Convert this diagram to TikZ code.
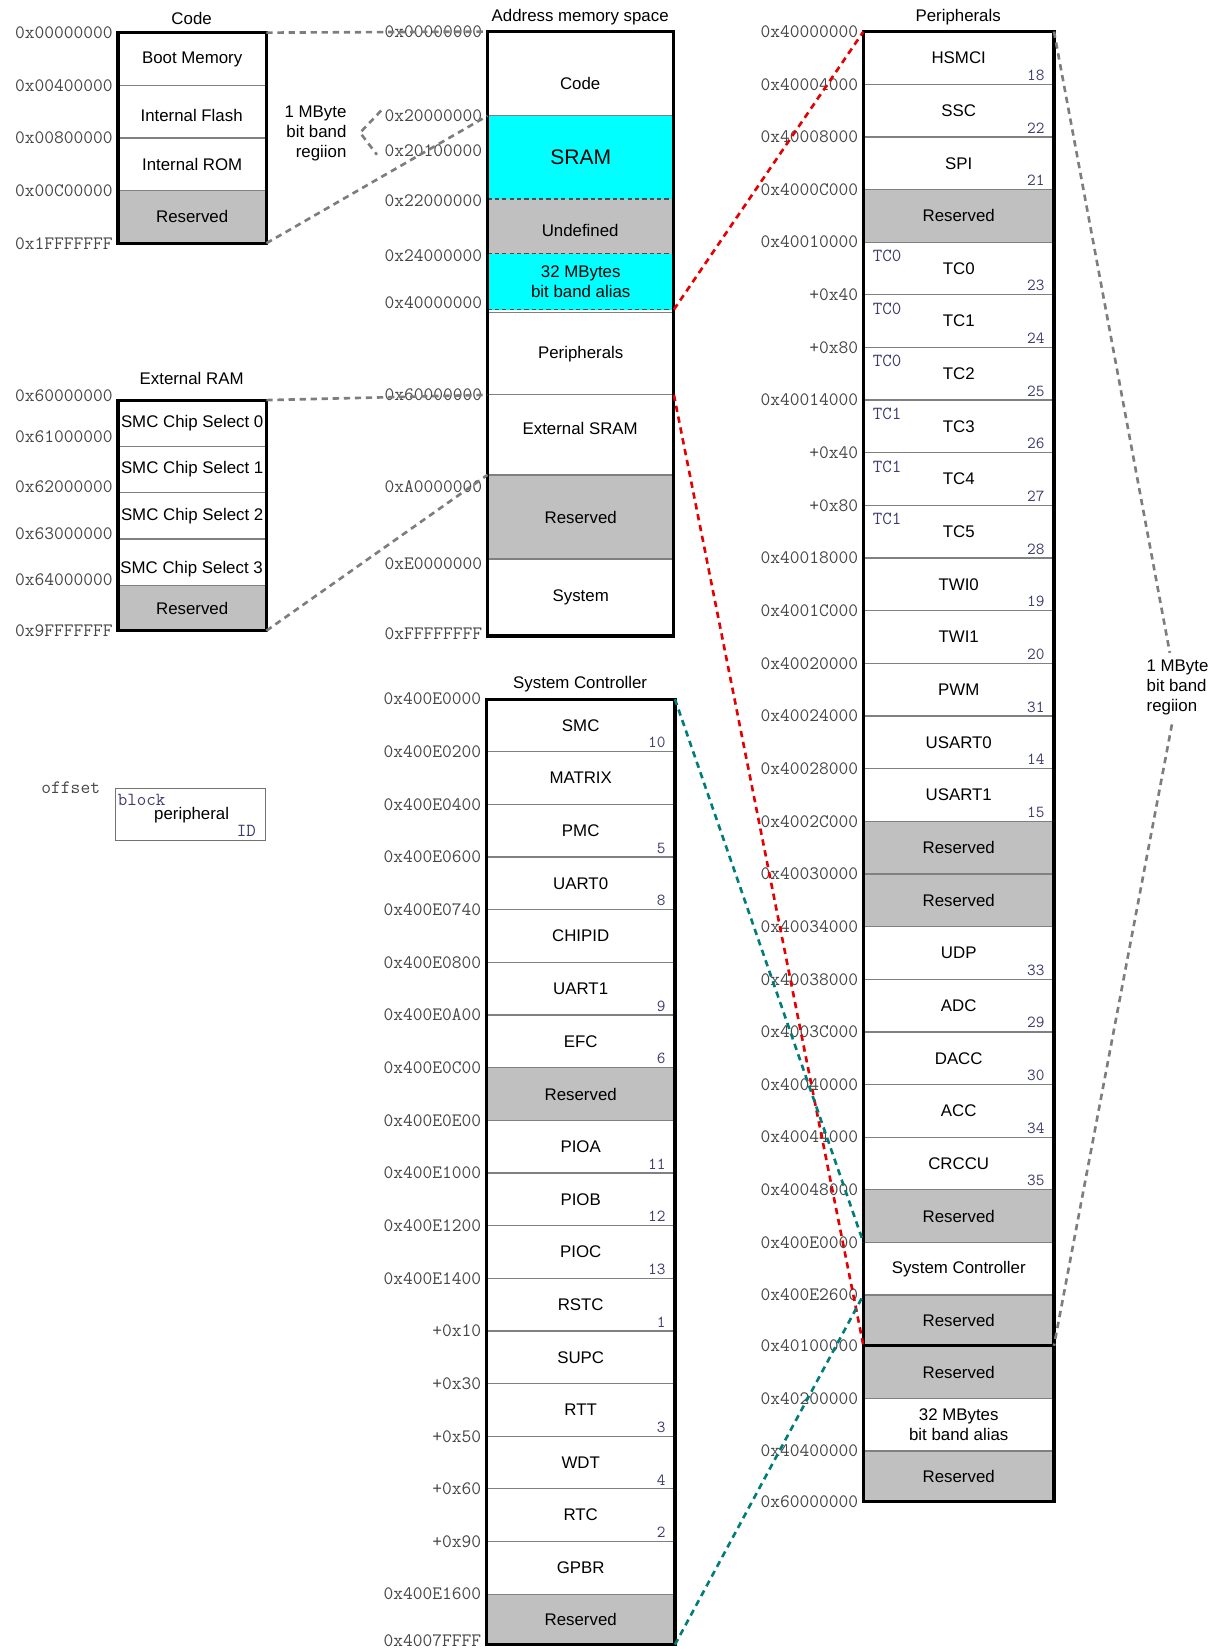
\documentclass[tikz,border=0pt]{standalone}
\usepackage{fontspec}
\setmainfont{Liberation Sans}
\usepackage{tikz}
\usetikzlibrary{calc,shapes,backgrounds,positioning}
\definecolor{grayres}{RGB}{192,192,192}
\definecolor{cyanmem}{RGB}{0,255,255}
\definecolor{hexgray}{RGB}{70,70,70}
\definecolor{idgray}{RGB}{60,60,110}
\definecolor{redlink}{RGB}{228,0,0}
\definecolor{teallink}{RGB}{0,125,120}
\definecolor{graylink}{RGB}{125,125,125}

\begin{document}
\begin{tikzpicture}[x=1pt,y=-1pt]

  \tikzstyle{every node}=[font=\fontsize{16}{19}\selectfont, inner sep=0pt, outer sep=0pt]
  \tikzstyle{seg}=[draw=black!50, line width=1.2pt, anchor=north west, align=center]
  \tikzstyle{rsv}=[seg, fill=grayres]
  \tikzstyle{hex}=[font=\fontsize{18}{20}\selectfont\ttfamily, text=hexgray, anchor=east, xshift=-5pt]
  \tikzstyle{pid}=[font=\fontsize{16}{18}\selectfont\ttfamily, text=idgray, anchor=south east, xshift=-9pt, yshift=3.5pt]
  \tikzstyle{blk}=[font=\fontsize{17.5}{20}\selectfont\ttfamily, text=idgray, anchor=north west, xshift=9pt, yshift=-7.5pt]
  \tikzstyle{box}=[draw, line width=3pt]
  \tikzstyle{sepdash}=[draw=black!70, line width=1.2pt, dash pattern=on 4pt off 3pt]
  \tikzstyle{link}=[line width=2.5pt, dash pattern=on 6pt off 4.5pt]

  \useasboundingbox (0,0) rectangle (1158,1568);

  % Code
  \node (tC) at (182,18) {Code};
  \node[seg, minimum width=141pt, minimum height=50pt] (C1) at (112,31) {Boot Memory};
  \node[seg, minimum width=141pt, minimum height=50pt] (C2) at (112,81) {};
  \node (C2t) at (182,110) {Internal Flash};
  \node[seg, minimum width=141pt, minimum height=50pt] (C3) at (112,131) {Internal ROM};
  \node[rsv, minimum width=141pt, minimum height=50pt] (C4) at (112,181) {Reserved};
  \draw[box] (C1.north west) rectangle (C4.south east);
  \node[hex] (aC1) at (C1.north west) {0x00000000};
  \node[hex] (aC2) at (C2.north west) {0x00400000};
  \node[hex] (aC3) at (C3.north west) {0x00800000};
  \node[hex] (aC4) at (C4.north west) {0x00C00000};
  \node[hex] (aC5) at (C4.south west) {0x1FFFFFFF};

  \node[align=right, anchor=east] (bbL) at (329,127) {1 MByte\\bit band\\regiion};
  \coordinate (bL1) at (362,105);
  \coordinate (bL2) at (342,126);
  \coordinate (bL3) at (358,147);

  % External RAM
  \node (tR) at (182,359) {External RAM};
  \node[seg, minimum width=141pt, minimum height=44pt] (R1) at (112,380) {SMC Chip Select 0};
  \node[seg, minimum width=141pt, minimum height=44pt] (R2) at (112,424) {SMC Chip Select 1};
  \node[seg, minimum width=141pt, minimum height=44pt] (R3) at (112,468) {SMC Chip Select 2};
  \node[seg, minimum width=141pt, minimum height=44pt] (R4) at (112,512) {};
  \node (R4t) at (182,541) {SMC Chip Select 3};
  \node[rsv, minimum width=141pt, minimum height=43pt] (R5) at (112,556) {Reserved};
  \draw[box] (R1.north west) rectangle (R5.south east);
  \node[hex] (aR1) at (112,376) {0x60000000};
  \node[hex] (aR2) at (112,415) {0x61000000};
  \node[hex] (aR3) at (112,462) {0x62000000};
  \node[hex] (aR4) at (112,507) {0x63000000};
  \node[hex] (aR5) at (112,551) {0x64000000};
  \node[hex] (aR6) at (112,599) {0x9FFFFFFF};

  % legend
  \node[draw=black!55, line width=1pt, anchor=north west, minimum width=142pt, minimum height=49pt] (L) at (110,749) {};
  \node[hex, xshift=0pt] (Loff) at (100,748) {offset};
  \node[font=\fontsize{17.5}{20}\selectfont\ttfamily, text=idgray, anchor=west] (Lblk) at (112,760) {block};
  \node (Lper) at (182,774) {peripheral};
  \node[font=\fontsize{17.5}{20}\selectfont\ttfamily, text=idgray, anchor=east] (Lid) at (243,789) {ID};

  % Address memory space
  \node (tM) at (551,16) {Address memory space};
  \node[seg, minimum width=177pt, minimum height=80pt] (M1) at (463,30) {};
  \node (M1t) at (551,79) {Code};
  \node[anchor=north west, fill=cyanmem, minimum width=177pt, minimum height=79pt, font=\fontsize{20}{24}\selectfont] (M2) at (463,110) {SRAM};
  \node[anchor=north west, fill=grayres, minimum width=177pt, minimum height=52pt] (M3) at (463,189) {};
  \node (M3t) at (551,219) {Undefined};
  \node[anchor=north west, fill=cyanmem, minimum width=177pt, minimum height=53pt, align=center] (M4) at (463,241) {32 MBytes\\bit band alias};
  \node[seg, minimum width=177pt, minimum height=78pt] (M5) at (463,297) {Peripherals};
  \node[seg, minimum width=177pt, minimum height=76pt] (M6) at (463,375) {};
  \node (M6t) at (551,407) {External SRAM};
  \node[rsv, minimum width=177pt, minimum height=80pt] (M7) at (463,451) {Reserved};
  \node[seg, minimum width=177pt, minimum height=73pt] (M8) at (463,531) {System};
  \draw[sepdash] (M3.north west) -- (M3.north east);
  \draw[sepdash] (M4.north west) -- (M4.north east);
  \draw[sepdash] (M4.south west) -- (M4.south east);
  \draw[box] (M1.north west) rectangle (M8.south east);
  \node[hex] (aM1) at (M1.north west) {0x00000000};
  \node[hex] (aM2) at (M2.north west) {0x20000000};
  \node[hex] (aM3) at (463,143) {0x20100000};
  \node[hex] (aM4) at (463,191) {0x22000000};
  \node[hex] (aM5) at (463,243) {0x24000000};
  \node[hex] (aM6) at (463,287) {0x40000000};
  \node[hex] (aM7) at (M6.north west) {0x60000000};
  \node[hex] (aM8) at (463,462) {0xA0000000};
  \node[hex] (aM9) at (463,535) {0xE0000000};
  \node[hex] (aM10) at (463,602) {0xFFFFFFFF};

  % System Controller
  \node (tS) at (551,650) {System Controller};
  \node[seg, minimum width=179pt, minimum height=50pt] (S1) at (462,664) {SMC};
  \node[seg, minimum width=179pt, minimum height=50pt] (S2) at (462,714) {MATRIX};
  \node[seg, minimum width=179pt, minimum height=50pt] (S3) at (462,764) {PMC};
  \node[seg, minimum width=179pt, minimum height=50pt] (S4) at (462,814) {UART0};
  \node[seg, minimum width=179pt, minimum height=50pt] (S5) at (462,864) {CHIPID};
  \node[seg, minimum width=179pt, minimum height=50pt] (S6) at (462,914) {UART1};
  \node[seg, minimum width=179pt, minimum height=50pt] (S7) at (462,964) {EFC};
  \node[rsv, minimum width=179pt, minimum height=50pt] (S8) at (462,1014) {Reserved};
  \node[seg, minimum width=179pt, minimum height=50pt] (S9) at (462,1064) {PIOA};
  \node[seg, minimum width=179pt, minimum height=50pt] (S10) at (462,1114) {PIOB};
  \node[seg, minimum width=179pt, minimum height=50pt] (S11) at (462,1164) {PIOC};
  \node[seg, minimum width=179pt, minimum height=50pt] (S12) at (462,1214) {RSTC};
  \node[seg, minimum width=179pt, minimum height=50pt] (S13) at (462,1264) {SUPC};
  \node[seg, minimum width=179pt, minimum height=50pt] (S14) at (462,1314) {RTT};
  \node[seg, minimum width=179pt, minimum height=50pt] (S15) at (462,1364) {WDT};
  \node[seg, minimum width=179pt, minimum height=50pt] (S16) at (462,1414) {RTC};
  \node[seg, minimum width=179pt, minimum height=50pt] (S17) at (462,1464) {GPBR};
  \node[rsv, minimum width=179pt, minimum height=48pt] (S18) at (462,1514) {Reserved};
  \draw[box] (S1.north west) rectangle (S18.south east);
  \node[pid] (S1id) at (S1.south east) {10};
  \node[pid] (S3id) at (S3.south east) {5};
  \node[pid] (S4id) at (S4.south east) {8};
  \node[pid] (S6id) at (S6.south east) {9};
  \node[pid] (S7id) at (S7.south east) {6};
  \node[pid] (S9id) at (S9.south east) {11};
  \node[pid] (S10id) at (S10.south east) {12};
  \node[pid] (S11id) at (S11.south east) {13};
  \node[pid] (S12id) at (S12.south east) {1};
  \node[pid] (S14id) at (S14.south east) {3};
  \node[pid] (S15id) at (S15.south east) {4};
  \node[pid] (S16id) at (S16.south east) {2};
  \node[hex] (aS1) at (S1.north west) {0x400E0000};
  \node[hex] (aS2) at (S2.north west) {0x400E0200};
  \node[hex] (aS3) at (S3.north west) {0x400E0400};
  \node[hex] (aS4) at (S4.north west) {0x400E0600};
  \node[hex] (aS5) at (S5.north west) {0x400E0740};
  \node[hex] (aS6) at (S6.north west) {0x400E0800};
  \node[hex] (aS7) at (S7.north west) {0x400E0A00};
  \node[hex] (aS8) at (S8.north west) {0x400E0C00};
  \node[hex] (aS9) at (S9.north west) {0x400E0E00};
  \node[hex] (aS10) at (S10.north west) {0x400E1000};
  \node[hex] (aS11) at (S11.north west) {0x400E1200};
  \node[hex] (aS12) at (S12.north west) {0x400E1400};
  \node[hex] (aS13) at (S13.north west) {+0x10};
  \node[hex] (aS14) at (S14.north west) {+0x30};
  \node[hex] (aS15) at (S15.north west) {+0x50};
  \node[hex] (aS16) at (S16.north west) {+0x60};
  \node[hex] (aS17) at (S17.north west) {+0x90};
  \node[hex] (aS18) at (S18.north west) {0x400E1600};
  \node[hex] (aS19) at (462,1558) {0x4007FFFF};

  % Peripherals
  \node (tP) at (910,16) {Peripherals};
  \node[seg, minimum width=181pt, minimum height=50pt] (P1) at (820,30) {HSMCI};
  \node[seg, minimum width=181pt, minimum height=50pt] (P2) at (820,80) {SSC};
  \node[seg, minimum width=181pt, minimum height=50pt] (P3) at (820,130) {SPI};
  \node[rsv, minimum width=181pt, minimum height=50pt] (P4) at (820,180) {Reserved};
  \node[seg, minimum width=181pt, minimum height=50pt] (P5) at (820,230) {TC0};
  \node[seg, minimum width=181pt, minimum height=50pt] (P6) at (820,280) {TC1};
  \node[seg, minimum width=181pt, minimum height=50pt] (P7) at (820,330) {TC2};
  \node[seg, minimum width=181pt, minimum height=50pt] (P8) at (820,380) {TC3};
  \node[seg, minimum width=181pt, minimum height=50pt] (P9) at (820,430) {TC4};
  \node[seg, minimum width=181pt, minimum height=50pt] (P10) at (820,480) {TC5};
  \node[seg, minimum width=181pt, minimum height=50pt] (P11) at (820,530) {TWI0};
  \node[seg, minimum width=181pt, minimum height=50pt] (P12) at (820,580) {TWI1};
  \node[seg, minimum width=181pt, minimum height=50pt] (P13) at (820,630) {PWM};
  \node[seg, minimum width=181pt, minimum height=50pt] (P14) at (820,680) {USART0};
  \node[seg, minimum width=181pt, minimum height=50pt] (P15) at (820,730) {USART1};
  \node[rsv, minimum width=181pt, minimum height=50pt] (P16) at (820,780) {Reserved};
  \node[rsv, minimum width=181pt, minimum height=50pt] (P17) at (820,830) {Reserved};
  \node[seg, minimum width=181pt, minimum height=50pt] (P18) at (820,880) {UDP};
  \node[seg, minimum width=181pt, minimum height=50pt] (P19) at (820,930) {ADC};
  \node[seg, minimum width=181pt, minimum height=50pt] (P20) at (820,980) {DACC};
  \node[seg, minimum width=181pt, minimum height=50pt] (P21) at (820,1030) {ACC};
  \node[seg, minimum width=181pt, minimum height=50pt] (P22) at (820,1080) {CRCCU};
  \node[rsv, minimum width=181pt, minimum height=50pt] (P23) at (820,1130) {Reserved};
  \node[seg, minimum width=181pt, minimum height=50pt] (P24) at (820,1180) {System Controller};
  \node[rsv, minimum width=181pt, minimum height=48pt] (P25) at (820,1230) {Reserved};
  \node[rsv, minimum width=181pt, minimum height=50pt] (P26) at (820,1278) {Reserved};
  \node[seg, minimum width=181pt, minimum height=50pt] (P27) at (820,1328) {32 MBytes\\bit band alias};
  \node[rsv, minimum width=181pt, minimum height=48pt] (P28) at (820,1378) {Reserved};
  \draw[box] (P1.north west) rectangle (P28.south east);
  \draw[box] (P26.north west) -- (P26.north east);
  \node[pid] (P1id) at (P1.south east) {18};
  \node[pid] (P2id) at (P2.south east) {22};
  \node[pid] (P3id) at (P3.south east) {21};
  \node[pid] (P5id) at (P5.south east) {23};
  \node[pid] (P6id) at (P6.south east) {24};
  \node[pid] (P7id) at (P7.south east) {25};
  \node[pid] (P8id) at (P8.south east) {26};
  \node[pid] (P9id) at (P9.south east) {27};
  \node[pid] (P10id) at (P10.south east) {28};
  \node[pid] (P11id) at (P11.south east) {19};
  \node[pid] (P12id) at (P12.south east) {20};
  \node[pid] (P13id) at (P13.south east) {31};
  \node[pid] (P14id) at (P14.south east) {14};
  \node[pid] (P15id) at (P15.south east) {15};
  \node[pid] (P18id) at (P18.south east) {33};
  \node[pid] (P19id) at (P19.south east) {29};
  \node[pid] (P20id) at (P20.south east) {30};
  \node[pid] (P21id) at (P21.south east) {34};
  \node[pid] (P22id) at (P22.south east) {35};
  \node[blk] (P5b) at (P5.north west) {TC0};
  \node[blk] (P6b) at (P6.north west) {TC0};
  \node[blk] (P7b) at (P7.north west) {TC0};
  \node[blk] (P8b) at (P8.north west) {TC1};
  \node[blk] (P9b) at (P9.north west) {TC1};
  \node[blk] (P10b) at (P10.north west) {TC1};
  \node[hex] (aP1) at (P1.north west) {0x40000000};
  \node[hex] (aP2) at (P2.north west) {0x40004000};
  \node[hex] (aP3) at (P3.north west) {0x40008000};
  \node[hex] (aP4) at (P4.north west) {0x4000C000};
  \node[hex] (aP5) at (P5.north west) {0x40010000};
  \node[hex] (aP6) at (P6.north west) {+0x40};
  \node[hex] (aP7) at (P7.north west) {+0x80};
  \node[hex] (aP8) at (P8.north west) {0x40014000};
  \node[hex] (aP9) at (P9.north west) {+0x40};
  \node[hex] (aP10) at (P10.north west) {+0x80};
  \node[hex] (aP11) at (P11.north west) {0x40018000};
  \node[hex] (aP12) at (P12.north west) {0x4001C000};
  \node[hex] (aP13) at (P13.north west) {0x40020000};
  \node[hex] (aP14) at (P14.north west) {0x40024000};
  \node[hex] (aP15) at (P15.north west) {0x40028000};
  \node[hex] (aP16) at (P16.north west) {0x4002C000};
  \node[hex] (aP17) at (P17.north west) {0x40030000};
  \node[hex] (aP18) at (P18.north west) {0x40034000};
  \node[hex] (aP19) at (P19.north west) {0x40038000};
  \node[hex] (aP20) at (P20.north west) {0x4003C000};
  \node[hex] (aP21) at (P21.north west) {0x40040000};
  \node[hex] (aP22) at (P22.north west) {0x40044000};
  \node[hex] (aP23) at (P23.north west) {0x40048000};
  \node[hex] (aP24) at (P24.north west) {0x400E0000};
  \node[hex] (aP25) at (P25.north west) {0x400E2600};
  \node[hex] (aP26) at (P26.north west) {0x40100000};
  \node[hex] (aP27) at (P27.north west) {0x40200000};
  \node[hex] (aP28) at (P28.north west) {0x40400000};
  \node[hex] (aP29) at (P28.south west) {0x60000000};

  \node[align=left, anchor=west] (bbR) at (1089,653) {1 MByte\\bit band\\regiion};
  \coordinate (bR1) at (1111,620);
  \coordinate (bR2) at (1113,688);

  % connectors
  \draw[link, graylink] (C1.north east) -- (M1.north west);
  \draw[link, graylink] (C4.south east) -- (M1.south west);
  \draw[link, graylink] (R1.north east) -- (M6.north west);
  \draw[link, graylink] (R5.south east) -- (M6.south west);
  \draw[link, graylink] (bL1) -- (bL2) -- (bL3);
  \draw[link, graylink] (P1.north east) -- (bR1);
  \draw[link, graylink] (bR2) -- (P25.south east);
  \draw[link, redlink] (M4.south east) -- (P1.north west);
  \draw[link, redlink] (M6.north east) -- (P25.south west);
  \draw[link, teallink] (S1.north east) -- (P24.north west);
  \draw[link, teallink] (S18.south east) -- (P24.south west);
\end{tikzpicture}
\end{document}
